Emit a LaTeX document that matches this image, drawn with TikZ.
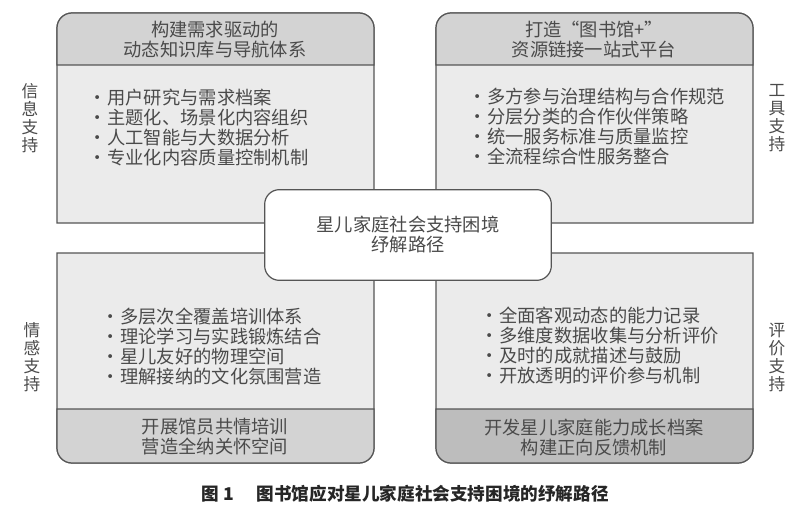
\documentclass[tikz,border=0pt]{standalone}
\usepackage{fontspec}
\setmainfont{Noto Sans CJK SC}
\usetikzlibrary{positioning}
\definecolor{edgegray}{HTML}{555555}
\definecolor{bodygray}{HTML}{EBEBEB}
\definecolor{bandgray}{HTML}{D3D3D3}
\definecolor{deepgray}{HTML}{BDBDBD}
\definecolor{inkgray}{HTML}{4A4A4A}
\tikzset{
  panel/.style={
    draw = edgegray,
    line width = 0.9pt,
    fill = bodygray
  },
  band/.style={
    panel,
    fill = bandgray
  },
  darkband/.style={
    panel,
    fill = deepgray
  },
  hub/.style={
    draw = edgegray,
    line width = 0.9pt,
    fill = white,
    rounded corners = 11pt,
    minimum width = 215pt,
    minimum height = 68pt,
    align = center,
    text = inkgray,
    font = \fontsize{13.7}{15}\selectfont
  },
}
\tikzset{
  head/.style={
    align = center,
    inner sep = 0pt,
    text = inkgray,
    font = \fontsize{13.7}{15}\selectfont
  },
  items/.style={
    anchor = west,
    align = left,
    inner sep = 0pt,
    text = inkgray,
    font = \fontsize{13.7}{15}\selectfont
  },
  side/.style={
    align = center,
    inner sep = 0pt,
    text = inkgray,
    font = \fontsize{12.5}{13.5}\selectfont
  },
  title/.style={
    inner sep = 0pt,
    text = black!85,
    font = \fontsize{13.2}{15}\selectfont\bfseries
  }
}
\newcommand{\itemdot}{\makebox[1.05em][l]{·}}

\begin{document}
\begin{tikzpicture}[x=0.75pt,y=0.75pt]
  \useasboundingbox[fill=white] (0,0) rectangle (800,519);
  % top panels
  \foreach \x in {57,436}{
    \filldraw[panel] (\x,296) -- (\x,491) arc (180:90:15) -- ++(287,0) arc (90:0:15) -- (\x+317,296) -- cycle;
    \filldraw[band] (\x,454) -- (\x,491) arc (180:90:15) -- ++(287,0) arc (90:0:15) -- (\x+317,454) -- cycle;
  }
  % bottom panels
  \foreach \x/\f in {57/band,436/darkband}{
    \filldraw[panel] (\x,266) -- (\x,71) arc (180:270:15) -- ++(287,0) arc (270:360:15) -- (\x+317,266) -- cycle;
    \filldraw[\f] (\x,110) -- (\x,71) arc (180:270:15) -- ++(287,0) arc (270:360:15) -- (\x+317,110) -- cycle;
  }
  \node[head] (infohead) at (215,479) {构建需求驱动的\\动态知识库与导航体系};
  \node[head] (toolhead) at (594,479) {打造“图书馆+”\\资源链接一站式平台};
  \node[head] (emofoot) at (215,82) {开展馆员共情培训\\营造全纳关怀空间};
  \node[head] (evalfoot) at (594,82) {开发星儿家庭能力成长档案\\构建正向反馈机制};

  \node[items] (infolist) at (88,391) {\itemdot 用户研究与需求档案\\\itemdot 主题化、场景化内容组织\\\itemdot 人工智能与大数据分析\\\itemdot 专业化内容质量控制机制};
  \node[items] (toollist) at (468,392) {\itemdot 多方参与治理结构与合作规范\\\itemdot 分层分类的合作伙伴策略\\\itemdot 统一服务标准与质量监控\\\itemdot 全流程综合性服务整合};
  \node[items] (emolist) at (101,173) {\itemdot 多层次全覆盖培训体系\\\itemdot 理论学习与实践锻炼结合\\\itemdot 星儿友好的物理空间\\\itemdot 理解接纳的文化氛围营造};
  \node[items] (evallist) at (480,173) {\itemdot 全面客观动态的能力记录\\\itemdot 多维度数据收集与分析评价\\\itemdot 及时的成就描述与鼓励\\\itemdot 开放透明的评价参与机制};

  \node[hub] (hub) at (408,284) {星儿家庭社会支持困境\\纾解路径};

  \node[side] (info) at (30,401) {信\\息\\支\\持};
  \node[side] (tool) at (777,401) {工\\具\\支\\持};
  \node[side] (emo) at (32,162) {情\\感\\支\\持};
  \node[side] (eval) at (777,162) {评\\价\\支\\持};

  \node[title] (cap) at (405,25) {图 1\hspace{1.3em}图书馆应对星儿家庭社会支持困境的纾解路径};
\end{tikzpicture}
\end{document}
